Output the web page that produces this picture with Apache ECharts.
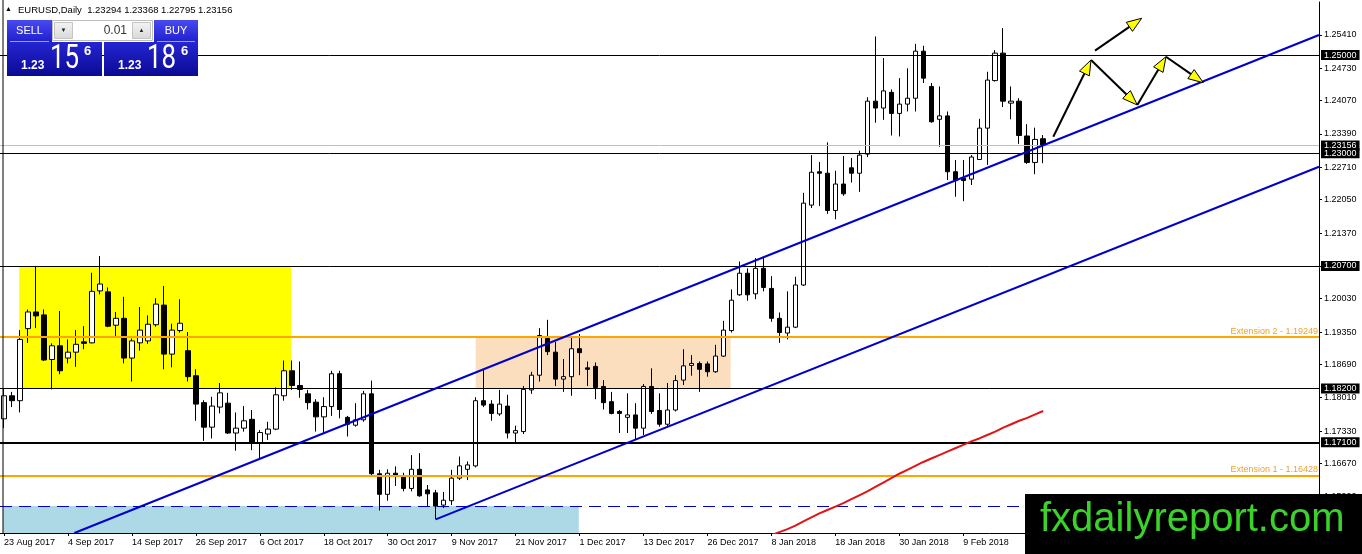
<!DOCTYPE html>
<html><head><meta charset="utf-8">
<script src="https://cdn.jsdelivr.net/npm/echarts@6/dist/echarts.min.js"></script>
<style>html,body{margin:0;padding:0;background:#fff}#c{width:1362px;height:554px}</style>
</head><body><div id="c"></div>
<script>
// ---------- data ----------
const firstDate = '2017-08-23';
const holidays = ['2017-12-25', '2018-01-01'];
const slotCount = 165; // bars + empty right shift

const opens = [1.1758,1.1805,1.1795,1.1942,1.1976,1.1970,1.1879,1.1907,1.1882,1.1894,
1.1915,1.1913,1.2019,1.2017,1.1949,1.1963,1.1882,1.1913,1.1917,1.1950,
1.1990,1.1890,1.1938,1.1897,1.1846,1.1791,1.1741,1.1782,1.1790,1.1729,
1.1739,1.1757,1.1709,1.1727,1.1737,1.1805,1.1856,1.1826,1.1809,1.1792,
1.1762,1.1783,1.1850,1.1761,1.1745,1.1756,1.1809,1.1646,1.1604,1.1647,
1.1640,1.1616,1.1655,1.1613,1.1607,1.1582,1.1591,1.1637,1.1655,1.1662,
1.1795,1.1788,1.1768,1.1784,1.1729,1.1732,1.1817,1.1847,1.1922,1.1894,
1.1839,1.1844,1.1901,1.1862,1.1865,1.1824,1.1793,1.1773,1.1761,1.1766,
1.1739,1.1824,1.1775,1.1747,1.1776,1.1837,1.1867,1.1871,1.1870,1.1854,
1.1886,1.1938,1.2011,1.2055,1.2013,1.2065,1.2024,1.1963,1.1933,1.1945,
1.2031,1.2194,1.2262,1.2259,1.2183,1.2237,1.2270,1.2259,1.2298,1.2406,
1.2392,1.2424,1.2381,1.2400,1.2412,1.2508,1.2436,1.2369,1.2376,1.2262,
1.2249,1.2247,1.2287,1.2351,1.2448,1.2504,1.2402,1.2406,1.2335,1.2281,
1.23294];
const highs = [1.1821,1.1813,1.1939,1.1981,1.2070,1.1981,1.1912,1.1978,1.1920,1.1939,
1.1947,1.2056,1.2090,1.2026,1.1976,1.2007,1.1922,1.1986,1.1969,1.2004,
1.2029,1.1952,1.2002,1.1935,1.1859,1.1796,1.1803,1.1831,1.1811,1.1771,
1.1784,1.1776,1.1735,1.1752,1.1822,1.1877,1.1877,1.1875,1.1817,1.1798,
1.1802,1.1856,1.1856,1.1764,1.1790,1.1815,1.1836,1.1654,1.1655,1.1661,
1.1648,1.1684,1.1688,1.1623,1.1613,1.1609,1.1654,1.1681,1.1671,1.1802,
1.1858,1.1796,1.1817,1.1807,1.1744,1.1825,1.1854,1.1943,1.1960,1.1915,
1.1880,1.1924,1.1931,1.1875,1.1873,1.1837,1.1813,1.1776,1.1810,1.1790,
1.1829,1.1861,1.1810,1.1831,1.1847,1.1900,1.1888,1.1875,1.1875,1.1909,
1.1958,1.2022,1.2079,1.2065,1.2086,1.2086,1.2049,1.1975,1.2018,1.2048,
1.2219,1.2296,1.2282,1.2322,1.2264,1.2294,1.2290,1.2305,1.2414,1.2538,
1.2494,1.2430,1.2453,1.2473,1.2523,1.2519,1.2443,1.2436,1.2385,1.2286,
1.2286,1.2296,1.2370,1.2466,1.2510,1.2555,1.2436,1.2412,1.2359,1.2352,
1.23368];
const lows = [1.1739,1.1782,1.1771,1.1913,1.1943,1.1876,1.1818,1.1849,1.1871,1.1864,
1.1900,1.1912,1.2012,1.1945,1.1927,1.1871,1.1834,1.1897,1.1911,1.1946,
1.1859,1.1863,1.1934,1.1834,1.1754,1.1713,1.1718,1.1769,1.1727,1.1693,
1.1732,1.1694,1.1678,1.1715,1.1735,1.1795,1.1817,1.1801,1.1777,1.1732,
1.1729,1.1764,1.1759,1.1722,1.1742,1.1752,1.1640,1.1571,1.1591,1.1621,
1.1610,1.1610,1.1599,1.1579,1.1553,1.1576,1.1582,1.1633,1.1633,1.1659,
1.1782,1.1754,1.1764,1.1718,1.1709,1.1727,1.1809,1.1834,1.1888,1.1825,
1.1813,1.1805,1.1847,1.1825,1.1798,1.1777,1.1767,1.1729,1.1729,1.1715,
1.1725,1.1768,1.1742,1.1742,1.1773,1.1827,1.1846,1.1813,1.1844,1.1852,
1.1884,1.1934,1.2009,1.1999,1.2002,1.2018,1.1956,1.1913,1.1920,1.1943,
1.2029,1.2188,1.2192,1.2176,1.2165,1.2213,1.2240,1.2221,1.2292,1.2362,
1.2368,1.2336,1.2334,1.2385,1.2385,1.2443,1.2362,1.2313,1.2245,1.2211,
1.2202,1.2235,1.2286,1.2276,1.2446,1.2394,1.2369,1.2319,1.2278,1.2257,
1.22795];
const closes = [1.1805,1.1795,1.1920,1.1976,1.1968,1.1878,1.1907,1.1856,1.1894,1.1910,
1.1912,1.2018,1.2033,1.1947,1.1963,1.1882,1.1917,1.1939,1.1951,1.1992,
1.1890,1.1939,1.1953,1.1844,1.1788,1.1741,1.1784,1.1811,1.1729,1.1739,
1.1754,1.1709,1.1730,1.1737,1.1807,1.1856,1.1826,1.1818,1.1791,1.1762,
1.1783,1.1850,1.1777,1.1747,1.1756,1.1809,1.1646,1.1604,1.1647,1.1641,
1.1616,1.1655,1.1601,1.1605,1.1580,1.1592,1.1637,1.1662,1.1664,1.1795,
1.1786,1.1769,1.1788,1.1729,1.1734,1.1818,1.1847,1.1928,1.1895,1.1839,
1.1844,1.1901,1.1893,1.1859,1.1822,1.1791,1.1769,1.1769,1.1766,1.1739,
1.1824,1.1773,1.1747,1.1776,1.1836,1.1866,1.1871,1.1859,1.1854,1.1886,
1.1939,1.2000,1.2055,1.2011,1.2065,1.2026,1.1963,1.1934,1.1945,1.2031,
1.2198,1.2261,1.2259,1.2183,1.2237,1.2217,1.2259,1.2296,1.2406,1.2392,
1.2427,1.2381,1.2400,1.2412,1.2508,1.2453,1.2364,1.2376,1.2262,1.2245,
1.2244,1.2292,1.2351,1.2449,1.2504,1.2406,1.2406,1.2336,1.2281,1.2328,
1.23156];

const maStartIndex = 95;
const maValues = [1.1514,1.1521,1.1527,1.1533,1.1540,1.1549,1.1557,1.1565,1.1572,1.1579,
1.1586,1.1594,1.1602,1.1610,1.1619,1.1628,1.1637,1.1646,1.1654,1.1662,
1.1670,1.1677,1.1684,1.1691,1.1698,1.1705,1.1712,1.1718,1.1725,1.1732,
1.1740,1.1747,1.1754,1.1760,1.1767,1.1774];

const yTickValues = [1.25410,1.24730,1.24070,1.23390,1.22710,1.22050,1.21370,1.20700,
1.20030,1.19350,1.18690,1.18010,1.17330,1.16670,1.15990];
const keyLevels = [1.25000, 1.23000, 1.20700, 1.18200, 1.17100];
const extensionNames = ['Extension 2', 'Extension 1'];
const extensionLevels = [1.19249, 1.16428];
const bidPrice = 1.23156;
const dashedLevel = 1.15802;

// zones: [fromBar, toBar], [topPrice, bottomPrice]
const zoneBars = [[1.9, 35.9], [59, 90.9], [-0.12, 71.9]];
const zonePrices = [[1.20700, 1.18200], [1.19249, 1.18200], [1.15802, 1.15251]];

// channel lines: [bar, price] start / end
const channelFrom = [[8.8, 1.15251], [54, 1.15530]];
const channelTo = [[164.5, 1.25410], [164.5, 1.22723]];

// projection arrows: [bar, price] start / end
const arrowFrom = [[131.26, 1.23335], [135.98, 1.24900], [141.77, 1.23982], [145.36, 1.24967], [136.48, 1.25090]];
const arrowTo = [[135.98, 1.24900], [141.77, 1.23982], [145.36, 1.24967], [150.03, 1.24437], [142.32, 1.25751]];

const symbolName = 'EURUSD,Daily';
const sellBig = ['1.23', '15', '6'];
const buyBig = ['1.23', '18', '6'];
const lotSize = '0.01';
const watermark = 'fxdailyreport.com';

// ---------- styles ----------
const priceMin = 1.15251, priceMax = 1.26083;
const keyLevelWidths = [1, 1, 1, 1, 2];
const zoneColors = ['#FFFF00', '#FADEBE', '#ADD8E6'];
const FONT = '"Liberation Sans", Arial, sans-serif';

// ---------- build ----------
function buildDates(first, n, skip) {
  const M = ['Jan','Feb','Mar','Apr','May','Jun','Jul','Aug','Sep','Oct','Nov','Dec'];
  const out = [];
  const d = new Date(first + 'T00:00:00Z');
  while (out.length < n) {
    const wd = d.getUTCDay();
    const iso = d.toISOString().slice(0, 10);
    if (wd !== 0 && wd !== 6 && skip.indexOf(iso) < 0) {
      out.push(d.getUTCDate() + ' ' + M[d.getUTCMonth()] + ' ' + d.getUTCFullYear());
    }
    d.setUTCDate(d.getUTCDate() + 1);
  }
  return out;
}
const barDates = buildDates(firstDate, opens.length, holidays);
const categories = barDates.slice();
for (let i = categories.length; i < slotCount; i++) categories.push('slot' + i);
const showLabel = (idx) => idx % 8 === 0 && idx < barDates.length;

const candleData = opens.map((o, i) => [o, closes[i], lows[i], highs[i]]);
const maData = maValues.map((v, i) => [maStartIndex + i, v]);

const last = opens.length - 1;
const headerText = symbolName + '  ' + [opens[last], highs[last], lows[last], closes[last]].map(v => v.toFixed(5)).join(' ');

const chart = echarts.init(document.getElementById('c'), null, {renderer: 'canvas'});
const G = echarts.graphic;
const btnGrad = () => new G.LinearGradient(0, 0, 0, 1, [{offset: 0, color: '#4a4af2'}, {offset: 1, color: '#1f1fcc'}]);
const boxGrad = () => new G.LinearGradient(0, 0, 0, 1, [{offset: 0, color: '#2525d2'}, {offset: 1, color: '#0a0a94'}]);
const greyGrad = () => new G.LinearGradient(0, 0, 0, 1, [{offset: 0, color: '#f4f4f4'}, {offset: 1, color: '#d8d8d8'}]);

function priceBlock(x0, parts) {
  return [
    {type: 'text', x: x0 + 14, y: 66, z: 101, style: {text: parts[0], font: 'bold 12px ' + FONT, fill: '#fff', verticalAlign: 'middle'}},
    {type: 'text', x: x0 + 43, y: 59, z: 101, scaleX: 0.76, style: {text: parts[1], font: '34px Roboto, ' + FONT, fill: '#fff', verticalAlign: 'middle'}},
    {type: 'text', x: x0 + 77, y: 51, z: 101, style: {text: parts[2], font: 'bold 13px ' + FONT, fill: '#fff', verticalAlign: 'middle'}}
  ];
}

const graphics = [
  {type: 'line', z: 60, shape: {x1: 3, y1: 0, x2: 3, y2: 533}, style: {stroke: '#000', lineWidth: 1}},
  {type: 'text', x: 5, y: 9, z: 101, style: {text: '\u25B2', font: '7px ' + FONT, fill: '#000', verticalAlign: 'middle'}},
  {type: 'text', x: 18, y: 10, z: 101, style: {text: headerText, font: '9.5px ' + FONT, fill: '#000', verticalAlign: 'middle'}},
  // SELL / BUY buttons
  {type: 'rect', z: 100, shape: {x: 7, y: 20, width: 45, height: 22}, style: {fill: btnGrad()}},
  {type: 'rect', z: 100, shape: {x: 154, y: 20, width: 44, height: 22}, style: {fill: btnGrad()}},
  {type: 'text', x: 29.5, y: 31, z: 101, style: {text: 'SELL', font: '11px ' + FONT, fill: '#fff', align: 'center', verticalAlign: 'middle'}},
  {type: 'text', x: 176, y: 31, z: 101, style: {text: 'BUY', font: '11px ' + FONT, fill: '#fff', align: 'center', verticalAlign: 'middle'}},
  {type: 'line', z: 101, shape: {x1: 10, y1: 41.5, x2: 49, y2: 41.5}, style: {stroke: '#9c9cff', lineWidth: 1}},
  {type: 'line', z: 101, shape: {x1: 157, y1: 41.5, x2: 195, y2: 41.5}, style: {stroke: '#9c9cff', lineWidth: 1}},
  // lot box
  {type: 'rect', z: 100, shape: {x: 52.5, y: 20.5, width: 100, height: 20}, style: {fill: '#fff', stroke: '#bdbdbd', lineWidth: 1}},
  {type: 'rect', z: 101, shape: {x: 54.5, y: 22.5, width: 18, height: 16}, style: {fill: greyGrad(), stroke: '#c4c4c4', lineWidth: 1}},
  {type: 'rect', z: 101, shape: {x: 132.5, y: 22.5, width: 18, height: 16}, style: {fill: greyGrad(), stroke: '#c4c4c4', lineWidth: 1}},
  {type: 'text', x: 63.5, y: 30.5, z: 102, style: {text: '\u25BC', font: '6px ' + FONT, fill: '#222', align: 'center', verticalAlign: 'middle'}},
  {type: 'text', x: 141.5, y: 30.5, z: 102, style: {text: '\u25B2', font: '6px ' + FONT, fill: '#222', align: 'center', verticalAlign: 'middle'}},
  {type: 'text', x: 127, y: 31, z: 102, style: {text: lotSize, font: '12px ' + FONT, fill: '#333', align: 'right', verticalAlign: 'middle'}},
  // price boxes
  {type: 'rect', z: 100, shape: {x: 7, y: 42, width: 95, height: 34}, style: {fill: boxGrad()}},
  {type: 'rect', z: 100, shape: {x: 104, y: 42, width: 94, height: 34}, style: {fill: boxGrad()}}
].concat(priceBlock(7, sellBig), priceBlock(104, buyBig), [
  // watermark
  {type: 'rect', z: 110, shape: {x: 1025, y: 494, width: 337, height: 60}, style: {fill: '#000'}},
  {type: 'text', x: 1040, y: 520, z: 111, style: {text: watermark, font: '40px ' + FONT, fill: '#3AD22B', verticalAlign: 'middle'}}
]);

const keyLevelLines = keyLevels.map((v, i) => ({
  yAxis: v,
  lineStyle: {color: '#000', width: keyLevelWidths[i], type: 'solid'},
  label: {show: true, position: 'end', formatter: v.toFixed(5), backgroundColor: '#000', color: '#fff',
          fontSize: 9, fontFamily: FONT, padding: [1, 3, 0, 3], distance: 2}
}));
const extensionLines = extensionLevels.map((v, i) => ({
  yAxis: v,
  lineStyle: {color: '#FFA500', width: 2, type: 'solid'},
  label: {show: true, position: 'insideEndTop', formatter: extensionNames[i] + ' - ' + v.toFixed(5),
          color: '#F0A030', fontSize: 9, fontFamily: FONT, distance: 1}
}));

const option = {
  animation: false,
  backgroundColor: '#fff',
  grid: {left: 0, right: 43, top: 2, bottom: 21, containLabel: false, outerBoundsMode: 'none'},
  xAxis: [
    {type: 'category', data: categories, boundaryGap: true,
     axisLine: {show: true, onZero: false, lineStyle: {color: '#000', width: 1}},
     axisTick: {show: true, alignWithLabel: true, interval: showLabel, length: 3, lineStyle: {color: '#000'}},
     axisLabel: {interval: showLabel, align: 'left', fontSize: 9, fontFamily: FONT, color: '#000', margin: 5,
                 formatter: (v, idx) => showLabel(idx) ? v : ''},
     splitLine: {show: false}},
    {type: 'value', min: -0.5, max: slotCount - 0.5, show: false, splitLine: {show: false},
     axisLine: {show: false, onZero: false}}
  ],
  yAxis: [{
    type: 'value', position: 'right', min: priceMin, max: priceMax, scale: true,
    splitLine: {show: false},
    axisLine: {show: true, onZero: false, lineStyle: {color: '#000', width: 1}},
    axisTick: {show: true, length: 3, customValues: yTickValues, lineStyle: {color: '#000'}},
    axisLabel: {customValues: yTickValues, formatter: v => v.toFixed(5), fontSize: 9, fontFamily: FONT, color: '#000', margin: 5}
  }],
  graphic: {elements: graphics},
  series: [
    {type: 'custom', name: 'zones', xAxisIndex: 1, yAxisIndex: 0, z: 1, silent: true, clip: true,
     data: zoneBars.map((b, i) => [b[0], zonePrices[i][0], b[1], zonePrices[i][1]]),
     encode: {x: [0, 2], y: [1, 3]},
     renderItem: (params, api) => {
       const a = api.coord([api.value(0), api.value(1)]);
       const b = api.coord([api.value(2), api.value(3)]);
       return {type: 'rect', shape: {x: Math.min(a[0], b[0]), y: Math.min(a[1], b[1]),
               width: Math.abs(b[0] - a[0]), height: Math.abs(b[1] - a[1])},
               style: {fill: zoneColors[params.dataIndex]}};
     }},
    {type: 'line', name: 'bid', xAxisIndex: 1, data: [], z: 2, silent: true,
     markLine: {silent: true, precision: 5, symbol: ['none', 'none'], animation: false, data: [
       {yAxis: bidPrice, lineStyle: {color: '#C0C0C0', width: 1, type: 'solid'},
        label: {show: true, position: 'end', formatter: bidPrice.toFixed(5), backgroundColor: '#000', color: '#fff',
                fontSize: 9, fontFamily: FONT, padding: [1, 3, 0, 3], distance: 2}},
       {yAxis: dashedLevel, lineStyle: {color: '#0000CD', width: 1, type: [12, 7]}, label: {show: false}}
     ]}},
    {type: 'line', name: 'levels', xAxisIndex: 1, data: [], z: 3, silent: true,
     markLine: {silent: true, precision: 5, symbol: ['none', 'none'], animation: false, data: extensionLines.concat(keyLevelLines)}},
    {type: 'candlestick', name: 'EURUSD', xAxisIndex: 0, yAxisIndex: 0, z: 4, silent: true,
     data: candleData, barWidth: 5,
     itemStyle: {color: '#ffffff', color0: '#000000', borderColor: '#000000', borderColor0: '#000000',
                 borderColorDoji: '#000000', borderWidth: 1}},
    {type: 'line', name: 'MA', xAxisIndex: 1, yAxisIndex: 0, z: 5, silent: true, data: maData,
     showSymbol: false, symbol: 'none', clip: true, lineStyle: {color: '#E01414', width: 2}},
    {type: 'line', name: 'channel1', xAxisIndex: 1, yAxisIndex: 0, z: 5, silent: true, clip: true,
     data: [channelFrom[0], channelTo[0]], showSymbol: false, symbol: 'none', lineStyle: {color: '#0000CD', width: 2}},
    {type: 'line', name: 'channel2', xAxisIndex: 1, yAxisIndex: 0, z: 5, silent: true, clip: true,
     data: [channelFrom[1], channelTo[1]], showSymbol: false, symbol: 'none', lineStyle: {color: '#0000CD', width: 2}},
    {type: 'custom', name: 'arrows', xAxisIndex: 1, yAxisIndex: 0, z: 6, silent: true,
     data: arrowFrom.map((f, i) => [f[0], f[1], arrowTo[i][0], arrowTo[i][1]]),
     encode: {x: [0, 2], y: [1, 3]},
     renderItem: (params, api) => {
       const p1 = api.coord([api.value(0), api.value(1)]);
       const p2 = api.coord([api.value(2), api.value(3)]);
       const dx = p2[0] - p1[0], dy = p2[1] - p1[1];
       const len = Math.hypot(dx, dy) || 1;
       const ux = dx / len, uy = dy / len;
       const L = 15, W = 5.5;
       const bx = p2[0] - ux * L, by = p2[1] - uy * L;
       return {type: 'group', children: [
         {type: 'line', shape: {x1: p1[0], y1: p1[1], x2: bx, y2: by}, style: {stroke: '#000', lineWidth: 2}},
         {type: 'polygon', shape: {points: [[p2[0], p2[1]], [bx - uy * W, by + ux * W], [bx + uy * W, by - ux * W]]},
          style: {fill: '#FFFF00', stroke: '#000', lineWidth: 1}}
       ]};
     }}
  ]
};
chart.setOption(option);
</script>
</body></html>
